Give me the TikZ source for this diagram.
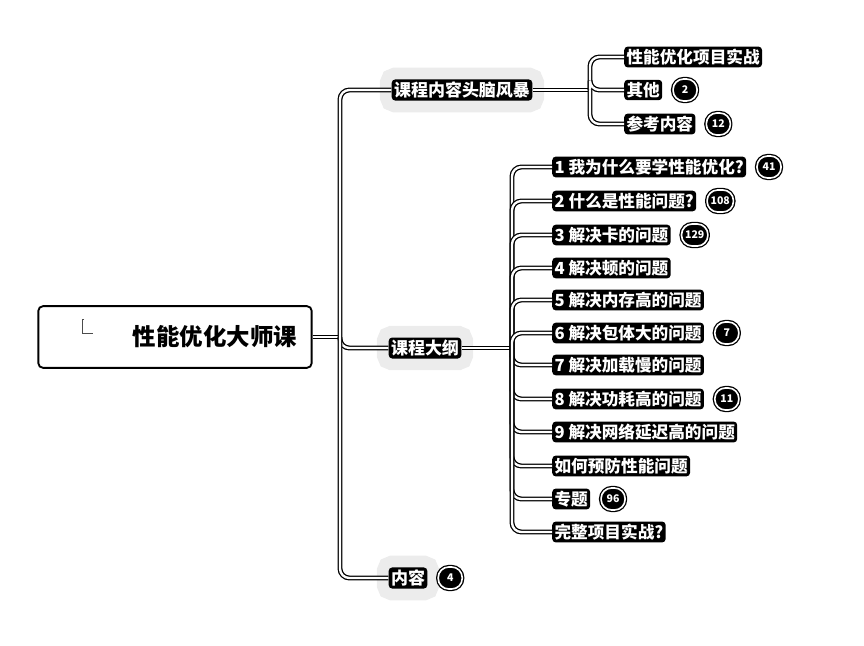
\documentclass[tikz,border=0pt]{standalone}
\usepackage{fontspec}
\setmainfont{Noto Sans CJK SC}
\usetikzlibrary{positioning}

\begin{document}
\begin{tikzpicture}[
    x=0.03cm, y=-0.03cm,
    node distance=0.3cm,
    rootbox/.style={rectangle, draw, line width=1.6pt, rounded corners=4pt, minimum width=8.2cm, minimum height=1.85cm, font=\fontsize{20}{24}\selectfont\bfseries},
    branch/.style={rectangle, fill=black, text=white, rounded corners=3pt, inner sep=2pt, font=\fontsize{14.5}{17}\selectfont\bfseries, preaction={draw=gray!15, line width=20pt}},
    leaf/.style={rectangle, fill=black, text=white, rounded corners=3pt, inner sep=2pt, font=\fontsize{14.2}{16}\selectfont\bfseries},
    badge/.style={rectangle, rounded corners=9pt, fill=black, text=white, draw=black, double=white, double distance=1.4pt, line width=1.1pt, inner xsep=3pt, inner ysep=1pt, minimum width=0.72cm, minimum height=0.66cm, font=\small\bfseries},
    link/.style={draw, line width=1.1pt, double=white, double distance=2pt, rounded corners=8pt}
]
    \useasboundingbox (0,0) rectangle (864,646);

    % root
    \node[rootbox] (root) at (175,337) {\hspace{2.4cm}性能优化大师课};
    \draw[thin, black!70] (84,319) -- (82,319) -- (82,333) -- (93,333);

    % main branches
    \node[branch] (brain) at (462,90) {课程内容头脑风暴};
    \node[branch] (outline) at (425,348) {课程大纲};
    \node[branch] (content) at (408,578) {内容};
    \node[badge, right=of content] (cb) {4};

    \coordinate (hub) at (340,337);
    \draw[link] (root.east) -- (hub);
    \draw[link] (hub) |- (brain.west);
    \draw[link] (hub) |- (outline.west);
    \draw[link] (hub) |- (content.west);

    % brainstorm children
    \foreach \n/\y/\t in {1/57/{性能优化项目实战}, 2/90/{其他}, 3/124/{参考内容}}
        \node[leaf, anchor=west] (b\n) at (624,\y) {\t};
    \node[badge, right=of b2] (bb2) {2};
    \node[badge, right=of b3] (bb3) {12};

    \coordinate (bhub) at (590,90);
    \draw[link] (brain.east) -- (bhub);
    \foreach \n in {1,2,3}
        \draw[link] (bhub) |- (b\n.west);

    % outline children
    \foreach \n/\y/\t in {1/167/{1 我为什么要学性能优化?}, 2/201/{2 什么是性能问题?}, 3/235/{3 解决卡的问题},
        4/268/{4 解决顿的问题}, 5/300/{5 解决内存高的问题}, 6/333/{6 解决包体大的问题},
        7/365/{7 解决加载慢的问题}, 8/399/{8 解决功耗高的问题}, 9/432/{9 解决网络延迟高的问题},
        10/466/{如何预防性能问题}, 11/499/{专题}, 12/532/{完整项目实战?}}
        \node[leaf, anchor=west] (o\n) at (552,\y) {\t};
    \foreach \n/\v in {1/41, 2/108, 3/129, 6/7, 8/11, 11/96}
        \node[badge, right=of o\n] (ob\n) {\v};

    \coordinate (ohub) at (512,348);
    \draw[link] (outline.east) -- (ohub);
    \foreach \n in {1,...,12}
        \draw[link] (ohub) |- (o\n.west);
\end{tikzpicture}
\end{document}
